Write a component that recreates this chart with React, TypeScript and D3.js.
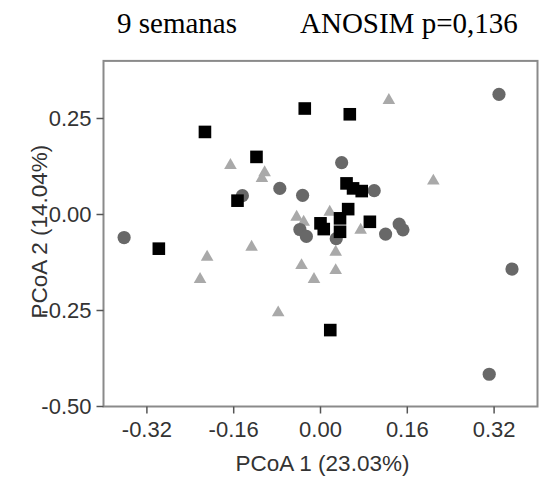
import React from "react";
import * as d3 from "d3";

const xTicks = [-0.32, -0.16, 0.0, 0.16, 0.32];
const yTicks = [0.25, 0.0, -0.25, -0.5];

// group "square" (black)
const squareX = [-0.029, -0.213, -0.118, -0.153, -0.298, 0.054, 0.048, 0.06, 0.076, 0.051, 0.036, 0.036, 0.0, 0.006, 0.091, 0.018];
const squareY = [0.276, 0.215, 0.15, 0.036, -0.089, 0.261, 0.081, 0.068, 0.061, 0.014, -0.01, -0.045, -0.023, -0.038, -0.019, -0.301];

// group "circle" (dark grey)
const circleX = [-0.362, -0.144, -0.075, -0.033, -0.038, -0.026, 0.039, 0.099, 0.029, 0.12, 0.145, 0.152, 0.329, 0.353, 0.311];
const circleY = [-0.06, 0.049, 0.068, 0.05, -0.039, -0.057, 0.135, 0.062, -0.063, -0.051, -0.025, -0.04, 0.313, -0.142, -0.416];

// group "triangle" (light grey)
const triX = [-0.166, -0.103, -0.108, -0.044, -0.031, 0.126, 0.208, 0.017, 0.074, 0.028, 0.028, -0.035, -0.012, -0.127, -0.209, -0.222, -0.078];
const triY = [0.133, 0.114, 0.099, -0.002, -0.015, 0.302, 0.092, 0.011, -0.036, -0.093, -0.141, -0.128, -0.164, -0.08, -0.106, -0.164, -0.251];

const fmt = (v: number) => d3.format(".2f")(v).replace("\u2212", "-");

export default function App() {
  const x = d3.scaleLinear().domain([-0.4, 0.4]).range([103.5, 537.5]);
  const y = d3.scaleLinear().domain([-0.5, 0.4]).range([406.5, 60.9]);
  const [x0, x1] = x.range();
  const [yb, yt] = y.range();
  const sq = 12.6;
  const r = 6.6;
  const ts = 12.6;
  const th = 10.9;
  const sans = "'Liberation Sans', Arial, sans-serif";
  const serif = "'Liberation Serif', 'Times New Roman', serif";
  return (
    <svg width={542} height={480} style={{ position: "absolute", left: 0, top: 0, background: "#fff" }}>
      <text x={117} y={33} fontFamily={serif} fontSize={29} fill="#000">9 semanas</text>
      <text x={300} y={33} fontFamily={serif} fontSize={29} fill="#000">ANOSIM p=0,136</text>

      {/* triangles */}
      {triX.map((v, i) => {
        const cx = x(v), cy = y(triY[i]);
        const p = `M${cx},${cy - th / 2}L${cx + ts / 2},${cy + th / 2}L${cx - ts / 2},${cy + th / 2}Z`;
        return <path key={"t" + i} d={p} fill="#a9a9a9" />;
      })}
      {/* circles */}
      {circleX.map((v, i) => (
        <circle key={"c" + i} cx={x(v)} cy={y(circleY[i])} r={r} fill="#686868" />
      ))}
      {/* squares */}
      {squareX.map((v, i) => (
        <rect key={"s" + i} x={x(v) - sq / 2} y={y(squareY[i]) - sq / 2} width={sq} height={sq} fill="#000" />
      ))}

      {/* frame */}
      <rect x={x0} y={yt} width={x1 - x0} height={yb - yt} fill="none" stroke="#8a8a8a" strokeWidth={2} />

      {/* x ticks */}
      {xTicks.map((t) => (
        <g key={"xt" + t}>
          <line x1={x(t)} x2={x(t)} y1={yb} y2={yb + 7} stroke="#555" strokeWidth={1.5} />
          <text x={x(t)} y={437} textAnchor="middle" fontFamily={sans} fontSize={22} fill="#333">{fmt(t)}</text>
        </g>
      ))}
      {/* y ticks */}
      {yTicks.map((t) => (
        <g key={"yt" + t}>
          <line x1={x0 - 7} x2={x0} y1={y(t)} y2={y(t)} stroke="#555" strokeWidth={1.5} />
          <text x={x0 - 12} y={y(t)} dy="0.36em" textAnchor="end" fontFamily={sans} fontSize={22} fill="#333">{fmt(t)}</text>
        </g>
      ))}
      <text x={(x0 + x1) / 2 + 2} y={471} textAnchor="middle" fontFamily={sans} fontSize={22.5} fill="#333">PCoA 1 (23.03%)</text>
      <text transform={`translate(47,${(yt + yb) / 2 - 2}) rotate(-90)`} textAnchor="middle" fontFamily={sans} fontSize={22.5} fill="#333">PCoA 2 (14.04%)</text>
    </svg>
  );
}
